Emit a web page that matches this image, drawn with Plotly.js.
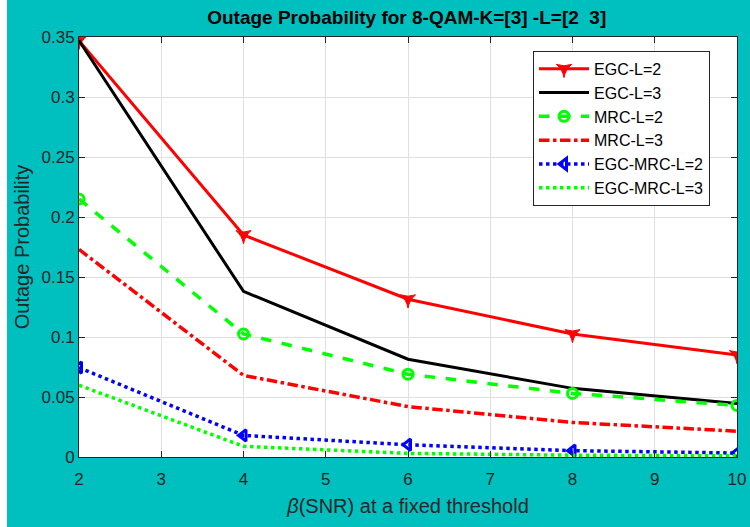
<!DOCTYPE html>
<html>
<head>
<meta charset="utf-8">
<script src="https://cdn.plot.ly/plotly-3.0.1.min.js"></script>
<style>
html,body{margin:0;padding:0;background:#ffffff;}
#chart{position:absolute;left:7px;top:0;width:743px;height:527px;}
</style>
</head>
<body>
<div id="chart"></div>
<script>
const snr = [2, 4, 6, 8, 10];
const egcL2 = [0.347, 0.185, 0.1315, 0.1025, 0.085];
const egcL3 = [0.347, 0.138, 0.0815, 0.0572, 0.0445];
const mrcL2 = [0.215, 0.1025, 0.069, 0.053, 0.043];
const mrcL3 = [0.173, 0.068, 0.042, 0.0288, 0.0215];
const egcMrcL2 = [0.0745, 0.018, 0.0102, 0.0053, 0.0033];
const egcMrcL3 = [0.0598, 0.0089, 0.003, 0.0015, 0.001];
const xTicks = [2, 3, 4, 5, 6, 7, 8, 9, 10];
const yTicks = [0, 0.05, 0.1, 0.15, 0.2, 0.25, 0.3, 0.35];
const yTickText = ['0', '0.05', '0.1', '0.15', '0.2', '0.25', '0.3', '0.35'];

const FONT = 'Liberation Sans, Arial, sans-serif';

const traces = [
  {x: snr, y: egcL2, name: 'EGC-L=2', mode: 'lines+markers',
   line: {color: '#ff0000', width: 3},
   marker: {symbol: 'star-triangle-down', size: 11, color: '#ff0000', line: {color: '#ff0000', width: 1}}},
  {x: snr, y: egcL3, name: 'EGC-L=3', mode: 'lines',
   line: {color: '#000000', width: 3}},
  {x: snr, y: mrcL2, name: 'MRC-L=2', mode: 'lines+markers',
   line: {color: '#00ff00', width: 3.5, dash: 'dash'},
   marker: {symbol: 'circle-open', size: 10, color: '#00ff00', line: {color: '#00ff00', width: 3}}},
  {x: snr, y: mrcL3, name: 'MRC-L=3', mode: 'lines',
   line: {color: '#ff0000', width: 3.5, dash: 'dashdot'}},
  {x: snr, y: egcMrcL2, name: 'EGC-MRC-L=2', mode: 'lines+markers',
   line: {color: '#0000ff', width: 3.5, dash: 'dot'},
   marker: {symbol: 'triangle-left-open', size: 10, color: '#0000ff', line: {color: '#0000ff', width: 3}}},
  {x: snr, y: egcMrcL3, name: 'EGC-MRC-L=3', mode: 'lines',
   line: {color: '#00ff00', width: 3.5, dash: 'dot'}}
];

const axisCommon = {
  showgrid: true, gridcolor: '#e0e0e0', gridwidth: 1,
  showline: true, linecolor: '#262626', linewidth: 1, mirror: 'ticks',
  ticks: 'inside', ticklen: 6, tickcolor: '#262626',
  zeroline: false, ticklabeloverflow: 'allow',
  tickfont: {family: FONT, size: 17, color: '#262626'}
};

const layout = {
  width: 743, height: 527,
  paper_bgcolor: '#00bfbf',
  plot_bgcolor: '#ffffff',
  margin: {l: 72, r: 13, t: 37, b: 70},
  title: {text: '<b>Outage Probability for 8-QAM-K=[3] -L=[2  3]</b>',
    font: {family: FONT, size: 19, color: '#000000'},
    x: 0.538, xanchor: 'center', y: 0.968, yanchor: 'middle'},
  xaxis: Object.assign({}, axisCommon, {
    range: [2, 10], tickvals: xTicks, ticktext: xTicks.map(String),
    ticklabelstandoff: 7,
    title: {text: '<i>β</i>(SNR) at a fixed threshold',
      font: {family: FONT, size: 20, color: '#262626'}, standoff: 10}
  }),
  yaxis: Object.assign({}, axisCommon, {
    range: [0, 0.35], tickvals: yTicks, ticktext: yTickText,
    title: {text: 'Outage Probability',
      font: {family: FONT, size: 20, color: '#262626'}, standoff: 6}
  }),
  showlegend: true,
  legend: {x: 0.69, y: 0.967, xanchor: 'left', yanchor: 'top',
    bgcolor: '#ffffff', bordercolor: '#262626', borderwidth: 1,
    font: {family: FONT, size: 16, color: '#000000'},
    tracegroupgap: 0, itemwidth: 50}
};

Plotly.newPlot('chart', traces, layout, {displayModeBar: false, staticPlot: true});
</script>
</body>
</html>
